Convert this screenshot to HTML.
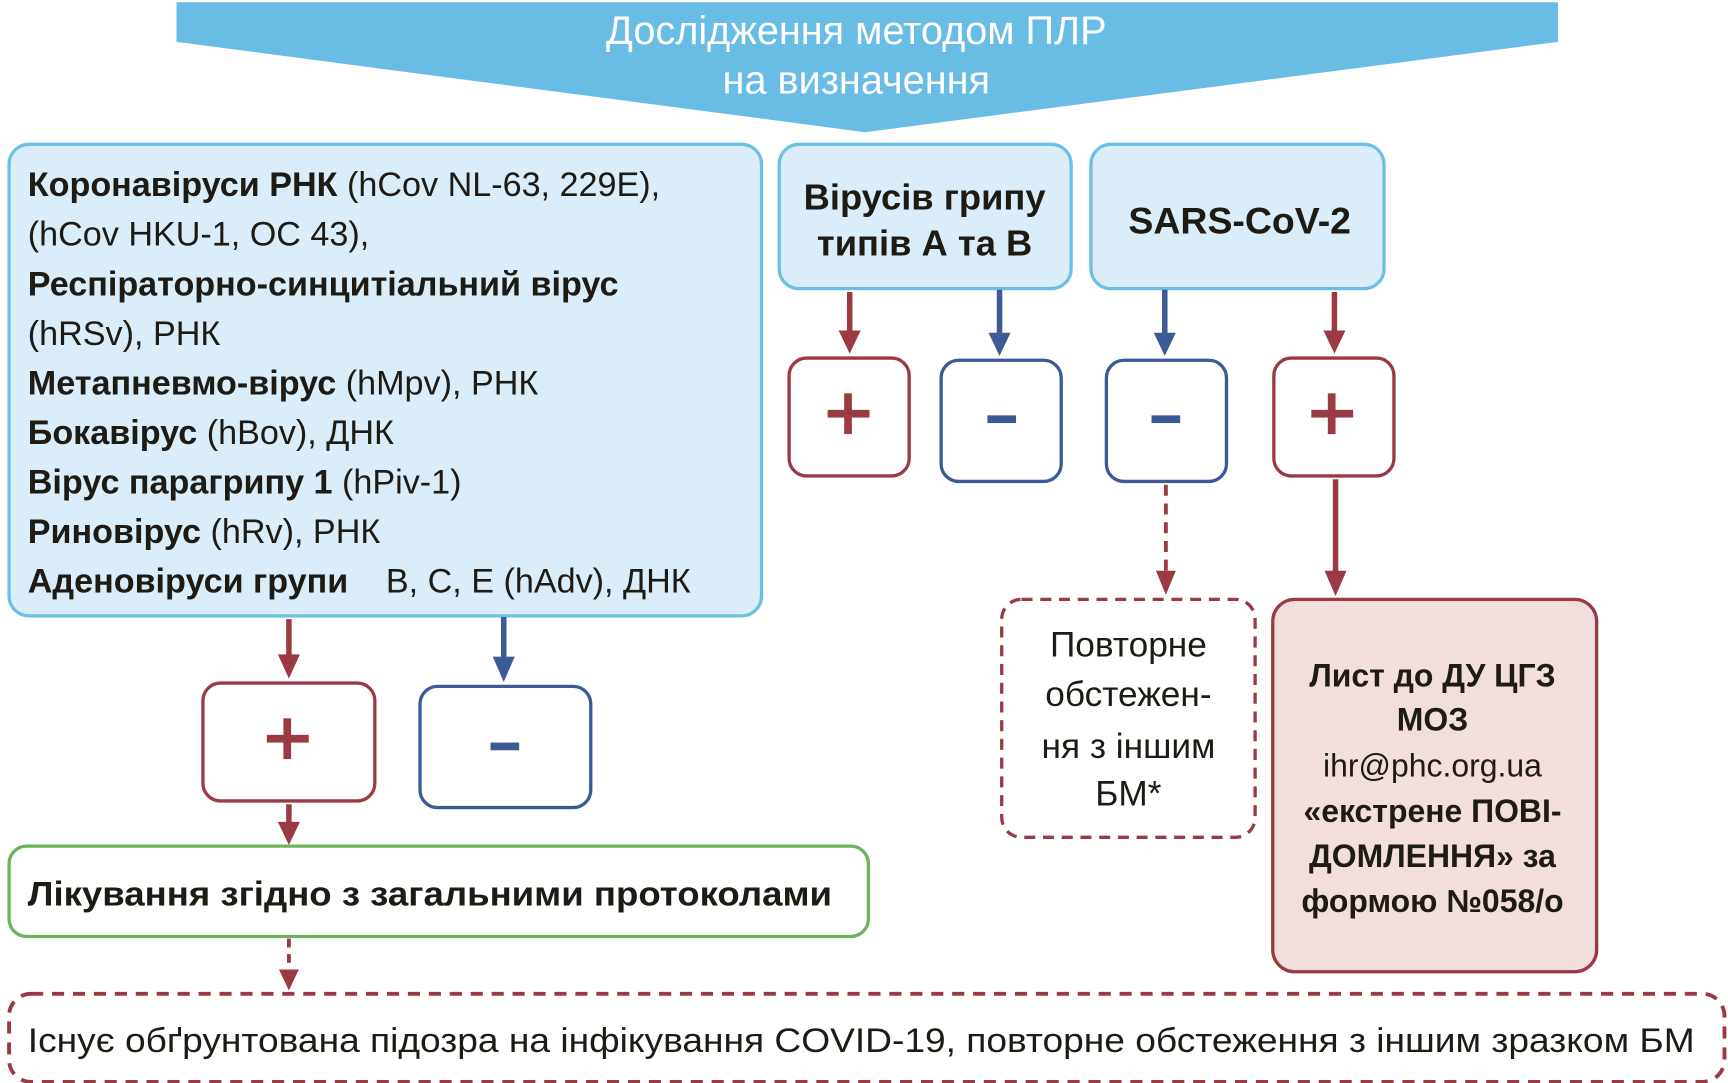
<!DOCTYPE html>
<html><head><meta charset="utf-8"><style>
html,body{margin:0;padding:0;background:#fff;}
svg{display:block;}
text{font-family:"Liberation Sans",sans-serif;fill:#1e1a14;}
.b{font-weight:bold;}
</style></head><body>
<svg width="1728" height="1083" viewBox="0 0 1568 983" xmlns="http://www.w3.org/2000/svg">
<!-- banner -->
<polygon points="160,2 1414,2 1414,38 785,120 160,38" fill="#69bde5"/>
<text x="777" y="40" font-size="36" text-anchor="middle" style="fill:#fff">Дослідження методом ПЛР</text>
<text x="777" y="85" font-size="36" text-anchor="middle" style="fill:#fff">на визначення</text>

<!-- left box -->
<rect x="8" y="131" width="683" height="428" rx="18" fill="#dbedf8" stroke="#6bc0e6" stroke-width="3"/>
<g font-size="31">
<text x="25" y="178"><tspan class="b">Коронавіруси РНК</tspan> (hCov NL-63, 229E),</text>
<text x="25" y="223">(hCov HKU-1, OC 43),</text>
<text x="25" y="268" class="b">Респіраторно-синцитіальний вірус</text>
<text x="25" y="313">(hRSv), РНК</text>
<text x="25" y="358"><tspan class="b">Метапневмо-вірус</tspan> (hMpv), РНК</text>
<text x="25" y="403"><tspan class="b">Бокавірус</tspan> (hBov), ДНК</text>
<text x="25" y="448"><tspan class="b">Вірус парагрипу 1</tspan> (hPiv-1)</text>
<text x="25" y="493"><tspan class="b">Риновірус</tspan> (hRv), РНК</text>
<text x="25" y="538" class="b">Аденовіруси групи</text>
<text x="350" y="538">B, C, E (hAdv), ДНК</text>
</g>

<!-- flu / sars -->
<rect x="707" y="131" width="265" height="131" rx="18" fill="#dbedf8" stroke="#6bc0e6" stroke-width="3"/>
<text x="839" y="190" font-size="33" class="b" text-anchor="middle">Вірусів грипу</text>
<text x="839" y="232" font-size="33" class="b" text-anchor="middle">типів А та В</text>
<rect x="990" y="131" width="266" height="131" rx="18" fill="#dbedf8" stroke="#6bc0e6" stroke-width="3"/>
<text x="1125" y="212" font-size="34" class="b" text-anchor="middle">SARS-CoV-2</text>

<!-- arrows -->
<g stroke-width="5" fill="none">
<line x1="771" y1="265" x2="771" y2="305" stroke="#9b3a42"/>
<line x1="907" y1="263" x2="907" y2="307" stroke="#3b5a96"/>
<line x1="1057" y1="263" x2="1057" y2="307" stroke="#3b5a96"/>
<line x1="1211" y1="265" x2="1211" y2="305" stroke="#9b3a42"/>
<line x1="1212" y1="435" x2="1212" y2="522" stroke="#9b3a42"/>
<line x1="1058" y1="440" x2="1058" y2="522" stroke="#9b3a42" stroke-width="3.5" stroke-dasharray="10,7"/>
<line x1="262" y1="562" x2="262" y2="598" stroke="#9b3a42"/>
<line x1="457" y1="560" x2="457" y2="600" stroke="#3b5a96"/>
<line x1="262" y1="730" x2="262" y2="752" stroke="#9b3a42"/>
<line x1="262" y1="852" x2="262" y2="884" stroke="#9b3a42" stroke-width="3.5" stroke-dasharray="8,6"/>
</g>
<g>
<polygon points="761,300 781,300 771,321" fill="#9b3a42"/>
<polygon points="897,302 917,302 907,323" fill="#3b5a96"/>
<polygon points="1047,302 1067,302 1057,323" fill="#3b5a96"/>
<polygon points="1201,300 1221,300 1211,321" fill="#9b3a42"/>
<polygon points="1202,518 1222,518 1212,541" fill="#9b3a42"/>
<polygon points="1049,518 1067,518 1058,540" fill="#9b3a42"/>
<polygon points="252,594 272,594 262,616" fill="#9b3a42"/>
<polygon points="447,596 467,596 457,619" fill="#3b5a96"/>
<polygon points="252,746 272,746 262,767" fill="#9b3a42"/>
<polygon points="253,880 271,880 262,899" fill="#9b3a42"/>
</g>

<!-- sign boxes -->
<g stroke-width="3" fill="#fff">
<rect x="716" y="325" width="109" height="107" rx="16" stroke="#9b3a42"/>
<rect x="854" y="327" width="109" height="110" rx="16" stroke="#3b5a96"/>
<rect x="1004" y="327" width="109" height="110" rx="16" stroke="#3b5a96"/>
<rect x="1156" y="325" width="109" height="107" rx="16" stroke="#9b3a42"/>
<rect x="184" y="620" width="156" height="107" rx="16" stroke="#9b3a42"/>
<rect x="381" y="623" width="155" height="110" rx="16" stroke="#3b5a96"/>
</g>
<g fill="#9b3a42">
<rect x="751" y="372" width="38" height="7"/><rect x="766" y="357" width="7" height="37"/>
<rect x="1190" y="372" width="38" height="7"/><rect x="1205" y="357" width="7" height="37"/>
<rect x="242" y="667" width="38" height="7"/><rect x="257" y="652" width="7" height="37"/>
</g>
<g fill="#3b5a96">
<rect x="896" y="377" width="26" height="7"/>
<rect x="1045" y="377" width="26" height="7"/>
<rect x="445" y="674" width="26" height="7"/>
</g>

<!-- dashed repeat box -->
<rect x="909" y="544" width="230" height="216" rx="18" fill="#fff" stroke="#9b3a42" stroke-width="3" stroke-dasharray="10,7"/>
<g font-size="32" text-anchor="middle">
<text x="1024" y="596">Повторне</text>
<text x="1024" y="641">обстежен-</text>
<text x="1024" y="688">ня з іншим</text>
<text x="1024" y="731">БМ*</text>
</g>

<!-- pink box -->
<rect x="1155" y="544" width="294" height="338" rx="20" fill="#f1dedd" stroke="#9b3a42" stroke-width="3"/>
<g font-size="29" text-anchor="middle">
<text x="1300" y="623" class="b">Лист до ДУ ЦГЗ</text>
<text x="1300" y="663" class="b">МОЗ</text>
<text x="1300" y="705">ihr@phc.org.ua</text>
<text x="1300" y="746" class="b">«екстрене ПОВІ-</text>
<text x="1300" y="787" class="b">ДОМЛЕННЯ» за</text>
<text x="1300" y="828" class="b">формою №058/о</text>
</g>

<!-- green box -->
<rect x="8" y="768" width="780" height="82" rx="16" fill="#fff" stroke="#6db35c" stroke-width="3"/>
<text x="25" y="822" font-size="31" class="b" textLength="730" lengthAdjust="spacingAndGlyphs">Лікування згідно з загальними протоколами</text>

<!-- bottom dashed -->
<rect x="8" y="902" width="1557" height="80" rx="20" fill="#fff" stroke="#9b3a42" stroke-width="3.5" stroke-dasharray="11,8"/>
<text x="25" y="955" font-size="31" textLength="1513" lengthAdjust="spacingAndGlyphs">Існує обґрунтована підозра на інфікування COVID-19, повторне обстеження з іншим зразком БМ</text>
</svg>
</body></html>
